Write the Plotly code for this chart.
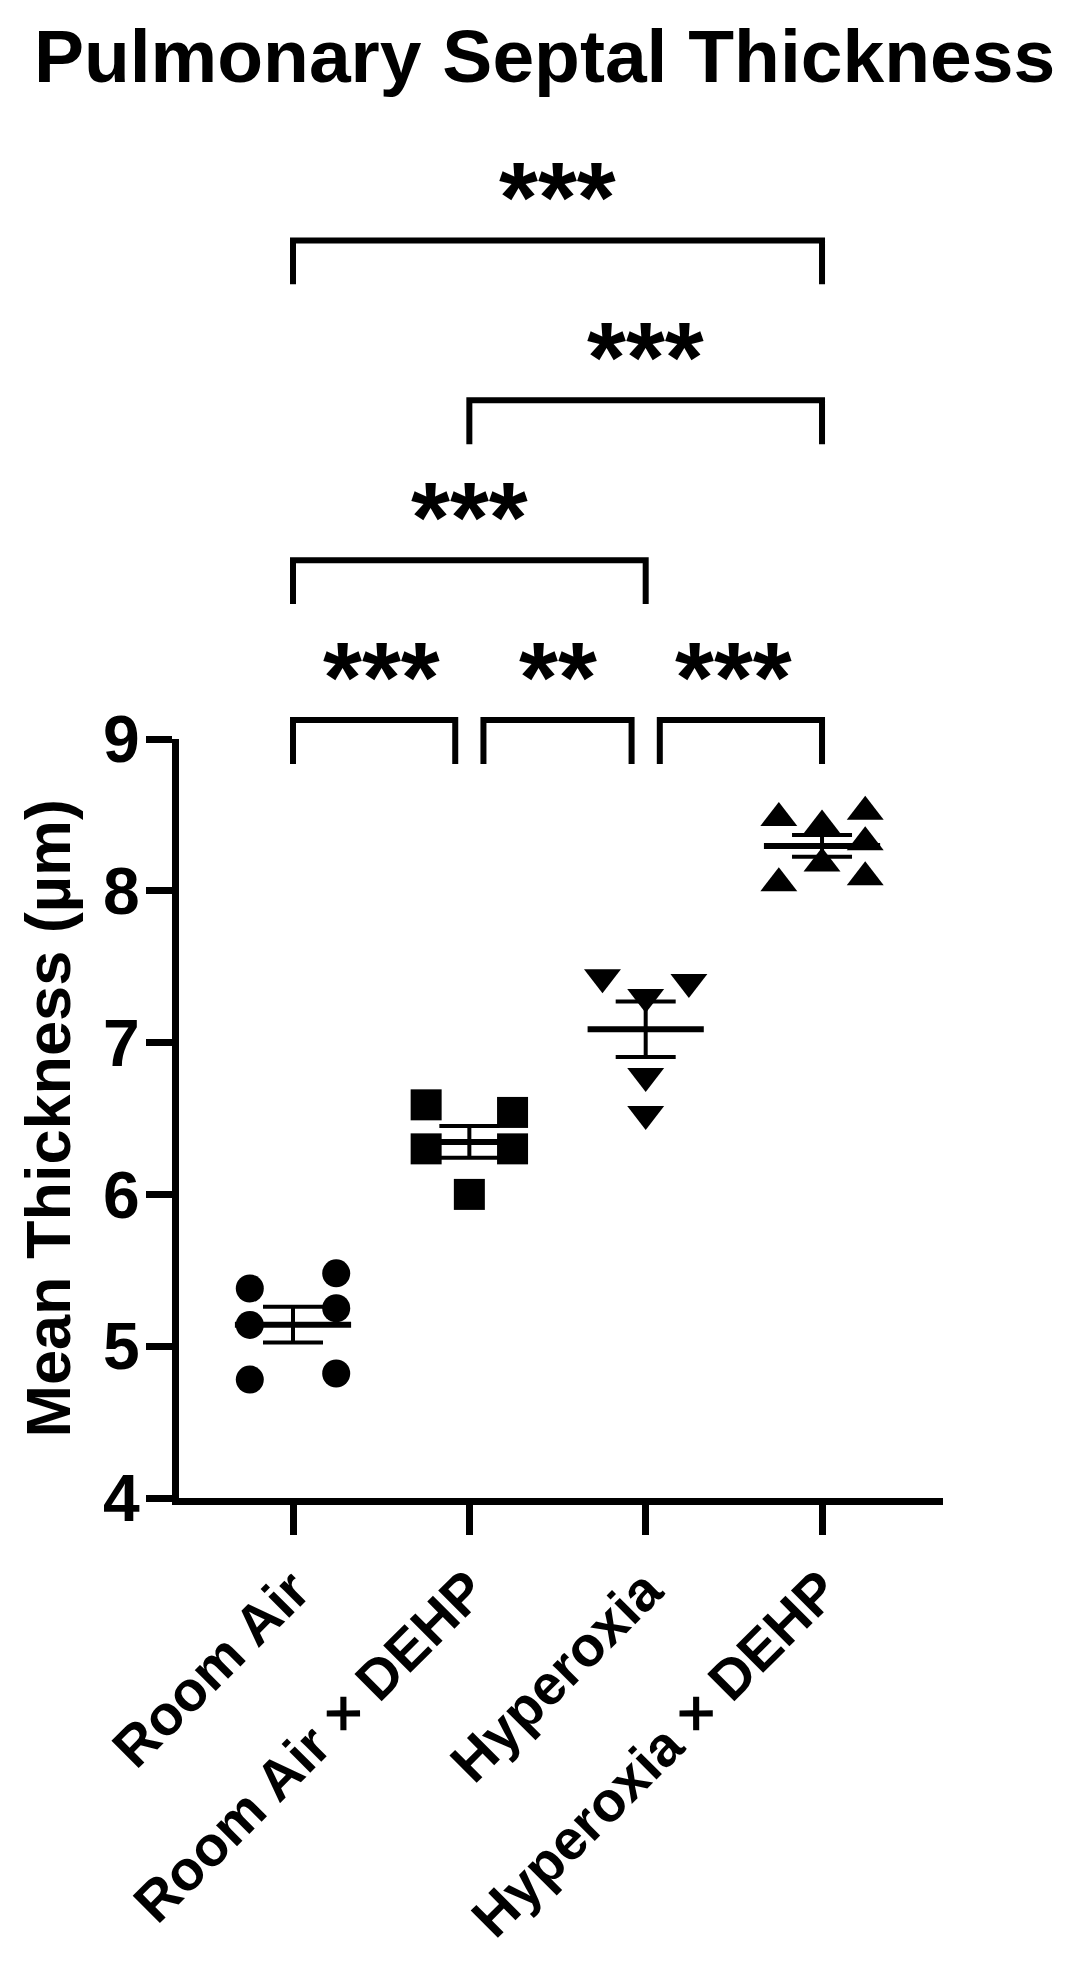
import numpy as np
import plotly.graph_objects as go

# ---------------- data ----------------
categories = ["Room Air", "Room Air × DEHP", "Hyperoxia", "Hyperoxia × DEHP"]
room_air = [5.38, 5.14, 4.78, 5.48, 5.25, 4.82]
room_air_dehp = [6.59, 6.30, 6.54, 6.30, 6.00]
hyperoxia = [7.43, 7.40, 7.30, 6.78, 6.53]
hyperoxia_dehp = [8.48, 8.05, 8.43, 8.18, 8.52, 8.32, 8.09]
y_tick_values = [4, 5, 6, 7, 8, 9]
# significance comparisons: (group a, group b, label)
comparisons = [(0, 1, "***"), (1, 2, "**"), (2, 3, "***"),
               (0, 2, "***"), (1, 3, "***"), (0, 3, "***")]

# ---------------- style / layout ----------------
FONT = "Liberation Sans, Arial, sans-serif"
groups = [room_air, room_air_dehp, hyperoxia, hyperoxia_dehp]
symbols = ["circle", "square", "triangle-down", "triangle-up"]
sizes = [28, 31, 32, 32]
# scatter column arrangement (-1 left, 0 centre, 1 right)
columns = [[-1, -1, -1, 1, 1, 1], [-1, -1, 1, 1, 0], [-1, 1, 0, 0, 0],
           [-1, -1, 0, 0, 1, 1, 1]]
COL_STEP = 0.245

W, H = 1074, 1962
L, R, T, B = 179, 131, 100, 464
plot_h = H - T - B
y_top_px = 739
frac = (H - B - y_top_px) / plot_h
x_range = [-0.6465, 3.686]
y2_range = [4, 4 + 5 / frac]

fig = go.Figure()

for i, (vals, sym, sz, cc) in enumerate(zip(groups, symbols, sizes, columns)):
    fig.add_trace(go.Scatter(
        x=[i + c * COL_STEP for c in cc], y=vals, mode="markers",
        marker=dict(symbol=sym, size=sz, color="black", line=dict(width=0)),
        showlegend=False, hoverinfo="y"))

means = [float(np.mean(g)) for g in groups]
sems = [float(np.std(g, ddof=1) / np.sqrt(len(g))) for g in groups]
fig.add_trace(go.Scatter(
    x=list(range(len(categories))), y=means, mode="markers",
    marker=dict(symbol="line-ew", size=83, color="black",
                line=dict(width=6, color="black")),
    error_y=dict(type="data", array=sems, visible=True, thickness=4,
                 width=30, color="black"),
    showlegend=False))

# dummy trace to create the overlay coordinate system for brackets
fig.add_trace(go.Scatter(x=[None], y=[None], xaxis="x2", yaxis="y2",
                         showlegend=False, hoverinfo="skip"))

# brackets
BASE = 9.125
STEP = 1.053
DROP = 0.289
GAP = 0.08
TXT = 0.285
shapes = []
annotations = []
for a, b, lab in comparisons:
    span = b - a
    if span == 1:
        level = 0
    elif span == 2:
        level = 1 if a == 0 else 2
    else:
        level = 3
    yh = BASE + level * STEP
    x0, x1 = float(a), float(b)
    if level == 0:
        if a > 0:
            x0 += GAP
        if b < len(categories) - 1:
            x1 -= GAP
    shapes.append(dict(
        type="path", xref="x2", yref="y2",
        path=f"M{x0},{yh - DROP} L{x0},{yh} L{x1},{yh} L{x1},{yh - DROP}",
        line=dict(color="black", width=6)))
    annotations.append(dict(
        x=(a + b) / 2, y=yh + TXT, xref="x2", yref="y2", text=lab,
        showarrow=False, xanchor="center", yanchor="middle",
        font=dict(family=FONT, size=100, color="black", weight="bold")))

annotations.append(dict(
    x=(47 - L) / (W - L - R), y=6.5, xref="paper", yref="y",
    text="Mean Thickness (µm)", textangle=-90, showarrow=False,
    xanchor="center", yanchor="middle",
    font=dict(family=FONT, size=63, color="black", weight="bold")))

fig.update_layout(
    width=W, height=H,
    margin=dict(l=L, r=R, t=T, b=B, autoexpand=False),
    plot_bgcolor="rgba(0,0,0,0)", paper_bgcolor="white", showlegend=False,
    title=dict(text="Pulmonary Septal Thickness", x=0.507, xanchor="center",
               y=1 - 56 / H, yanchor="middle", yref="container",
               font=dict(family=FONT, size=75, color="black", weight="bold")),
    xaxis=dict(range=x_range, tickvals=list(range(len(categories))),
               ticktext=categories, tickangle=-45, showline=True,
               linewidth=7, linecolor="black", ticks="outside", ticklen=30,
               tickwidth=7, tickcolor="black", showgrid=False, zeroline=False,
               automargin=False,
               tickfont=dict(family=FONT, size=56, color="black",
                             weight="bold")),
    yaxis=dict(domain=[0, frac], range=[4, 9], tickvals=y_tick_values,
               showline=True, linewidth=7, linecolor="black",
               ticks="outside", ticklen=26, tickwidth=7, tickcolor="black",
               showgrid=False, zeroline=False, automargin=False,
               ticklabelstandoff=-7,
               tickfont=dict(family=FONT, size=66, color="black",
                             weight="bold")),
    xaxis2=dict(domain=[0, 1], range=x_range, anchor="y2", visible=False,
                automargin=False),
    yaxis2=dict(domain=[0, 1], range=y2_range, anchor="x2", visible=False,
                automargin=False),
    shapes=shapes, annotations=annotations,
)

fig.write_html("out.html")
